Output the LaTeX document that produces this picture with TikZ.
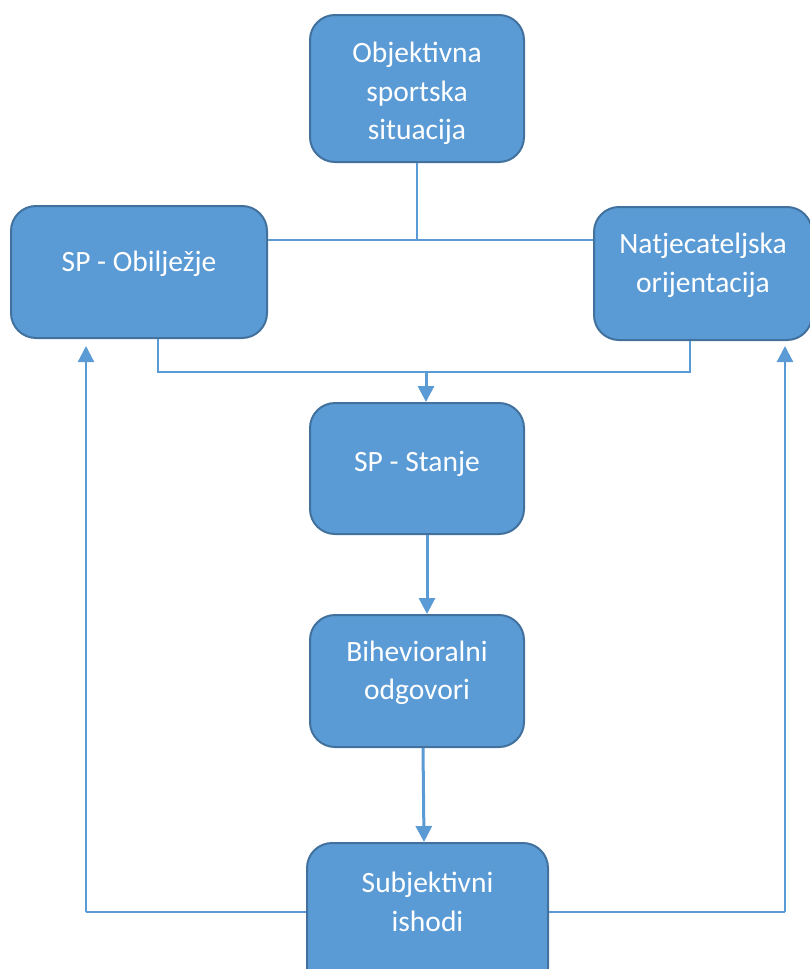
\documentclass[tikz,border=0pt]{standalone}
\usepackage{fontspec}
\setmainfont{Carlito}
\usetikzlibrary{arrows.meta}
\definecolor{boxfill}{HTML}{5B9BD5}
\definecolor{boxline}{HTML}{41719C}
\definecolor{conn}{HTML}{5B9BD5}
\tikzset{
  box/.style={draw=boxline, line width=2pt, fill=boxfill, rounded corners=25pt, inner sep=0pt},
  boxtext/.style={text=white, align=center, font=\fontsize{29.5}{38.5}\selectfont, yshift=8pt},
  thinline/.style={draw=conn, line width=1.5pt},
  arrowline/.style={draw=conn, line width=3pt, -{Triangle[width=16pt,length=16pt]}},
}
\begin{document}
\begin{tikzpicture}[x=1pt,y=-1pt]
\useasboundingbox (0,0) rectangle (810,969);
\clip (0,0) rectangle (810,969);
% boxes
\node[box, minimum width=214pt, minimum height=147pt,
  label={[boxtext, yshift=-13pt]center:Objektivna\\sportska\\situacija}] (obj) at (417,88.5) {};
\node[box, minimum width=256pt, minimum height=132pt,
  label={[boxtext]center:SP - Obilježje}] (spo) at (139,272) {};
\node[box, minimum width=218pt, minimum height=133pt,
  label={[boxtext]center:Natjecateljska\\orijentacija}] (nat) at (703,273.5) {};
\node[box, minimum width=214pt, minimum height=131pt,
  label={[boxtext, yshift=-3pt]center:SP - Stanje}] (sps) at (417,468.5) {};
\node[box, minimum width=214pt, minimum height=132pt,
  label={[boxtext]center:Bihevioralni\\odgovori}] (bih) at (417,681) {};
\node[box, minimum width=241pt, minimum height=150pt,
  label={[boxtext, yshift=8pt]center:Subjektivni\\ishodi}] (sub) at (427.5,918) {};
% junction coordinates
\coordinate (j1) at (417,240);
\coordinate (a1) at (158,372);
\coordinate (a2) at (690,372);
\coordinate (j2) at (426,372);
\coordinate (l1) at (86,912);
\coordinate (l2) at (86,346);
\coordinate (r1) at (785,912);
\coordinate (r2) at (785,346);
% top connector
\draw[thinline] (obj.south) -- (j1);
\draw[thinline] (spo.east |- j1) -- (nat.west |- j1);
% lower collector
\draw[thinline] (a1 |- spo.south) -- (a1) -- (a2) -- (a2 |- nat.south);
\draw[arrowline] (j2) -- (j2 |- sps.north);
% chain
\draw[arrowline] ([xshift=10pt]sps.south) -- ([xshift=10pt]bih.north);
\draw[arrowline] ([xshift=6pt]bih.south) -- ([xshift=-3.5pt]sub.north);
% feedback
\draw[thinline] (sub.west |- l1) -- (l1);
\draw[arrowline, line width=2.2pt] (l1) -- (l2);
\draw[thinline] (sub.east |- r1) -- (r1);
\draw[arrowline, line width=2.2pt] (r1) -- (r2);
\end{tikzpicture}
\end{document}
